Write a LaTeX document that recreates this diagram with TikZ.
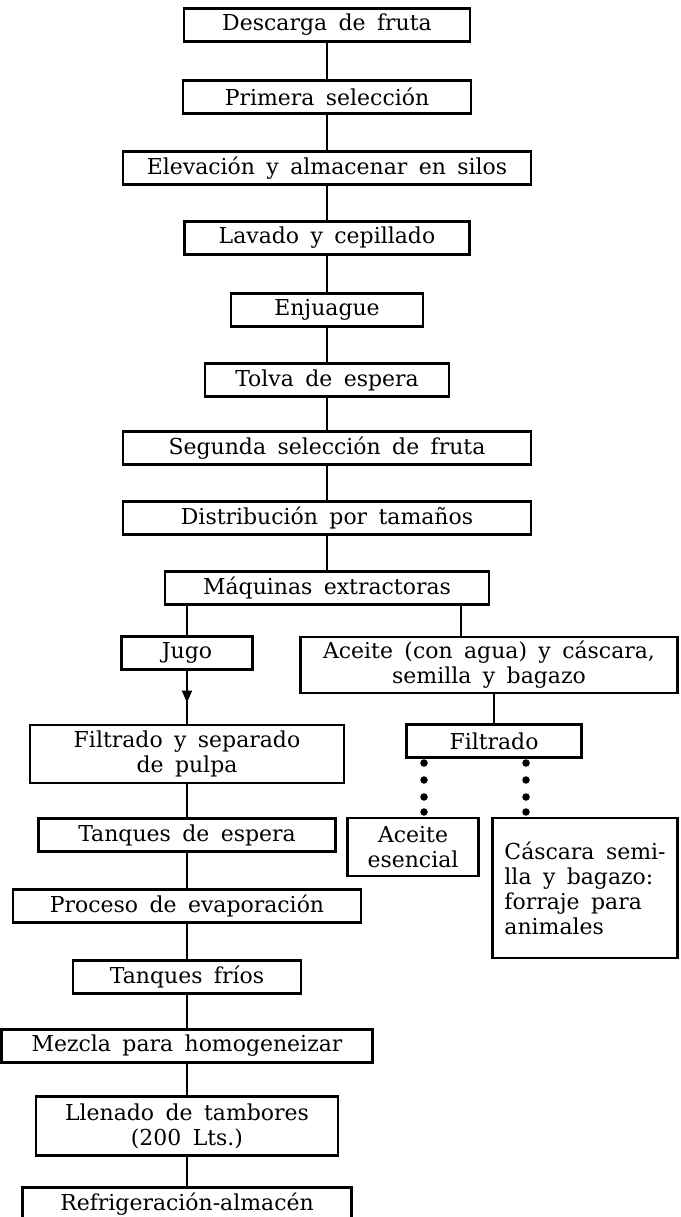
\documentclass[tikz,border=0pt]{standalone}
\usepackage{fontspec}
\setmainfont{DejaVu Serif}
\usetikzlibrary{arrows.meta,calc}

\tikzset{
  box/.style={draw, line width=1.3pt, minimum height=0.66cm, inner sep=2pt, align=center,
    font={\fontsize{12.5}{14.2}\selectfont\spaceskip=6.5pt plus 1pt minus 1pt}},
  conn/.style={line width=1.2pt},
}

\begin{document}
\begin{tikzpicture}[x=0.02cm, y=-0.02cm]
    \useasboundingbox (0,0) rectangle (680,1217);

    % Main column down to the extractors
    \foreach \y/\w/\name/\txt in {25/5.72/desc/{Descarga de fruta},
        97/5.76/prim/{Primera selección},
        168/8.16/elev/{Elevación y almacenar en silos},
        238/5.70/lava/{Lavado y cepillado},
        310/3.84/enju/{Enjuague},
        380/4.88/tolv/{Tolva de espera},
        448/8.16/segu/{Segunda selección de fruta},
        518/8.16/dist/{Distribución por tamaños},
        588/6.48/maqu/{Máquinas extractoras}} {
        \node[box, minimum width=\w cm] (\name) at (327,\y) {\txt};
    }

    % Juice line
    \foreach \y/\w/\h/\name/\txt in {653/2.62/0.66/jugo/{Jugo},
        754/6.28/1.16/fsep/{Filtrado y separado\\de pulpa},
        835/5.94/0.66/tesp/{Tanques de espera},
        906/6.96/0.66/evap/{Proceso de evaporación},
        977/4.56/0.66/tfri/{Tanques fríos},
        1046/7.42/0.66/mezc/{Mezcla para homogeneizar},
        1126/6.04/1.18/llen/{Llenado de tambores\\(200 Lts.)},
        1204/6.58/0.66/refr/{Refrigeración-almacén}} {
        \node[box, minimum width=\w cm, minimum height=\h cm] (\name) at (187,\y) {\txt};
    }

    % Oil and peel line
    \node[box, minimum width=7.54cm, minimum height=1.12cm] (acei) at (489,665) {Aceite (con agua) y cáscara,\\semilla y bagazo};
    \node[box, minimum width=3.5cm] (filt) at (494,741) {Filtrado};
    \node[box, minimum width=2.62cm, minimum height=1.16cm] (esen) at (413,847) {Aceite\\esencial};
    \node[box, minimum width=3.7cm, minimum height=2.8cm, align=left] (casc) at (585,888) {Cáscara semi-\\lla y bagazo:\\forraje para\\animales};

    % Connectors
    \foreach \a/\b in {desc/prim, prim/elev, elev/lava, lava/enju, enju/tolv, tolv/segu, segu/dist, dist/maqu} {
        \draw[conn] (\a) -- (\b);
    }
    \foreach \a/\b in {fsep/tesp, tesp/evap, evap/tfri, tfri/mezc, mezc/llen, llen/refr} {
        \draw[conn] (\a) -- (\b);
    }
    \draw[conn] (maqu.south -| jugo) -- (jugo);
    \draw[conn] (jugo) -- (fsep);
    \draw[conn, -{Triangle[width=0.2cm, length=0.24cm]}] (jugo.south) -- ($(jugo.south)!0.6!(fsep.north)$);
    \draw[conn] (maqu.south -| 461,0) -- (acei.north -| 461,0);
    \draw[conn] (acei.south -| filt) -- (filt);

    % Dotted outputs of the filter
    \foreach \x in {424, 526} {
        \foreach \y in {763, 780, 797, 812} {
            \fill (\x,\y) circle (0.075cm);
        }
    }

\end{tikzpicture}
\end{document}
